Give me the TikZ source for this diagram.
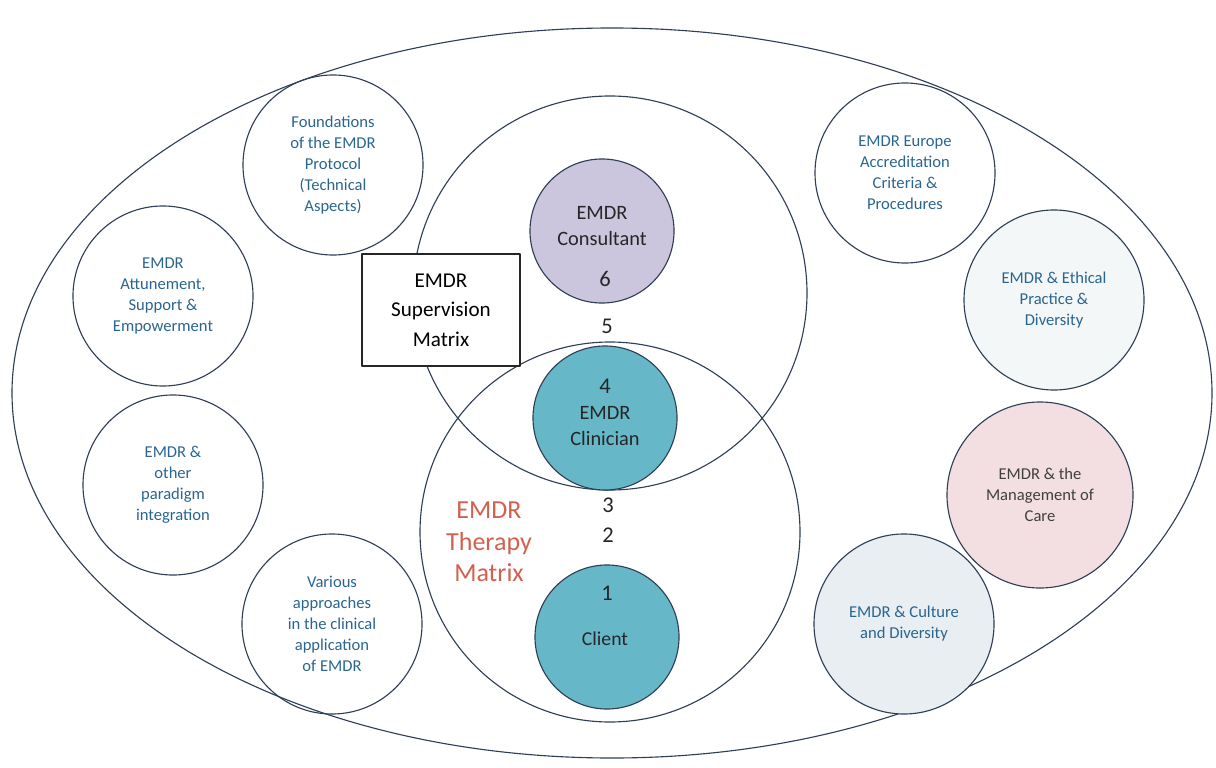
\documentclass[tikz,border=0pt]{standalone}
\usepackage{fontspec}
\setmainfont{Carlito}
\definecolor{inkline}{HTML}{2F3F55}
\definecolor{topictext}{HTML}{2A6590}
\definecolor{consultfill}{HTML}{CCC5DE}
\definecolor{clinfill}{HTML}{66B8C9}
\definecolor{carefill}{HTML}{F3DFE2}
\definecolor{culturefill}{HTML}{E8EEF2}
\definecolor{ethicfill}{HTML}{F3F7F8}
\definecolor{therapyred}{HTML}{D2604E}
\tikzset{
  topic/.style={circle, draw=inkline, thick, minimum size=4.5cm, inner sep=0pt, align=center,
    text=topictext, font=\fontsize{11.8}{15}\selectfont},
  core/.style={circle, draw=inkline, thick, minimum size=3.6cm, inner sep=0pt, fill=clinfill},
  num/.style={font=\fontsize{16}{18}\selectfont, text=black!85},
  corelabel/.style={align=center, font=\fontsize{14.5}{18.5}\selectfont, text=black!85}
}
\begin{document}
\begin{tikzpicture}[x=0.025cm, y=-0.025cm, line join=round, line cap=round]
	\useasboundingbox (0,0) rectangle (1216,768);
	\path (612,393) coordinate (O) (610,293) coordinate (S) (610,532) coordinate (T);
	\draw[inkline, thick] (O) ellipse (600 and 365);
	\draw[inkline, thick] (S) circle (197);
	\draw[inkline, thick] (T) circle (190);
	% topics round the edge
	\foreach \n/\p/\t in {found/{(333,165)}/{Foundations\\of the EMDR\\Protocol\\(Technical\\Aspects)},
		attune/{(163,296)}/{EMDR\\Attunement,\\Support \&\\Empowerment},
		paradigm/{(173,485)}/{EMDR \&\\other\\paradigm\\integration},
		various/{(332,624)}/{Various\\approaches\\in the clinical\\application\\of EMDR},
		europe/{(905,173)}/{EMDR Europe\\Accreditation\\Criteria \&\\Procedures}}
		\node[topic] (\n) at \p {\t};
	\node[topic, fill=ethicfill] (ethic) at (1054,300) {EMDR \& Ethical\\Practice \&\\Diversity};
	\node[topic, fill=carefill, text=black!75, minimum size=4.65cm] (care) at (1040,495) {EMDR \& the\\Management of\\Care};
	\node[topic, fill=culturefill] (culture) at (904,624) {EMDR \& Culture\\and Diversity};
	% centre column
	\node[core, fill=consultfill] (consult) at (602,231) {};
	\node[core] (clin) at (605,418) {};
	\node[core] (client) at (607,637) {};
	\node[corelabel] (consultlab) at (602,226) {EMDR\\Consultant};
	\node[num] (n6) at (605,279) {6};
	\node[num] (n5) at (607,326) {5};
	\node[num] (n4) at (605,386) {4};
	\node[corelabel] (clinlab) at (605,426) {EMDR\\Clinician};
	\node[num] (n3) at (608,505) {3};
	\node[num] (n2) at (608,535) {2};
	\node[num] (n1) at (607,593) {1};
	\node[corelabel, font=\fontsize{14}{16}\selectfont] (clientlab) at (605,639) {Client};
	\node[draw=black!85, thick, fill=white, minimum width=3.95cm, minimum height=2.8cm, align=center,
		font=\fontsize{15}{21}\selectfont] (supbox) at (441,310) {EMDR\\Supervision\\Matrix};
	\node[align=center, text=therapyred, font=\fontsize{18.5}{22.5}\selectfont] (therapy) at (489,542) {EMDR\\Therapy\\Matrix};
\end{tikzpicture}
\end{document}
